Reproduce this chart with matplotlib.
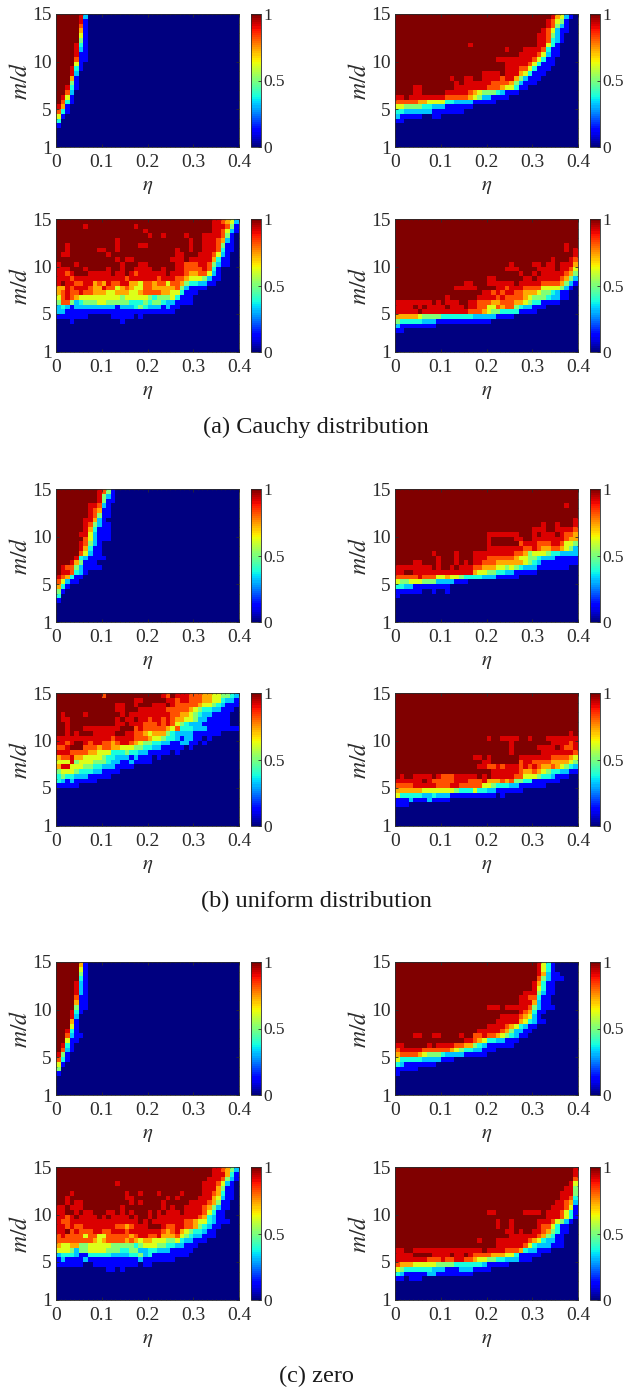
import numpy as np
import matplotlib
matplotlib.use("Agg")
import matplotlib.pyplot as plt

plt.rcParams['font.family'] = ['Liberation Serif', 'DejaVu Serif']
plt.rcParams['mathtext.fontset'] = 'stix'

# figure size in pixels
W, H = 624, 1389

# axis values
eta_edges = np.arange(41) * 0.01
md_edges = 1 + np.arange(29) * 0.5
eta_ticks = [0, 0.1, 0.2, 0.3, 0.4]
eta_labels = ['0', '0.1', '0.2', '0.3', '0.4']
md_ticks = [1, 5, 10, 15]
bar_ticks = [0, 0.5, 1]
bar_labels = ['0', '0.5', '1']
captions = ['(a) Cauchy distribution', '(b) uniform distribution', '(c) zero']

# every digit in the grids below stands for one of these values
levels = [0, 0.12, 0.32, 0.39, 0.5, 0.62, 0.72, 0.82, 0.92, 1]

D = '9' * 40

a_tl = ["99999 82", "99999 81", "99999 71", "99999 61", "99999 51", "99999 41", "9999 831",
        "9999 821", "9999 811", "9999 711", "9999 51", "999 831", "999 82", "999 61", "999 41",
        "99 831", "99 72", "9 851", "9 731", "861", "731", "51", "3", "1"]

a_tr = ["9999999999 9999999999 9999999999 9999865210",
        "9999999999 9999999999 9999999999 9998754100",
        "9999999999 9999999999 9999999999 9998742100",
        "9999999999 9999999999 9999999999 9987521100",
        "9999999999 9999999999 9999999999 9887421000",
        "9999999999 9999999999 9999999999 9887321000",
        "9999999999 9999998999 9999999999 9885310000",
        "9999999999 9999999999 9999899988 8873110000",
        "9999999999 9999999999 9999999888 8752110000",
        "9999999999 9999999999 9988888888 7531100000",
        "9999999999 9999999999 9999888887 5311100000",
        "9999999999 9999999999 9999888775 3111",
        "9999999999 9999999998 8889888653 1110",
        "9999999999 9989988998 8887886421 11",
        "9999999999 9998988888 8777764211 1",
        "9999889999 9998888888 7776553110",
        "9999889999 9888887654 4432111",
        "8898888888 8777776542 2111 1",
        "7777766555 5332222111 11",
        "5544443322 2111111",
        "3322222211 11111",
        "2111110011",
        "11"]

a_bl = ["9999999999 9999999999 9999999999 9999887652",
        "9999998999 9999999899 9999999999 9999888741",
        "9999999999 9999999998 9999999999 9999887521",
        "9999999999 9999999999 8998999989 9988887410",
        "9999999999 9998999999 9999999998 9988876210",
        "9989999999 9998999988 9999999998 9988874110",
        "9989999998 8998999999 9999998998 9988873110",
        "9889999999 9899999999 9999998899 9888752100",
        "9999999999 9998988999 9999988898 8888631100",
        "8999899999 9999899988 9999998877 7887421100",
        "8889998999 9899899888 8998998877 7787310000",
        "8878999888 8898898788 8888988876 6775210000",
        "8887888888 8888878888 8878887765 5542110000",
        "8988778867 6877886657 7677577643 3221100000",
        "6687888766 8775676557 7666667421 111",
        "6787787766 6556665567 7776655311 1",
        "5787655555 5555455555 4344453111",
        "4774234445 5444443334 3443221111",
        "2321222222 2221222343 22212110",
        "2211111111 1111111111 111111",
        "1111111000 0011111010",
        "0001000000 0000100"]

a_br = [D, D, D, D, D,
        "9999999999 9999999999 9999999999 9999999899",
        "9999999999 9999999999 9999999999 9999999898",
        "9999999999 9999999999 9999999999 9999999998",
        "9999999999 9999999999 9999999999 9999899987",
        "9999999999 9999999999 9999989999 8898898886",
        "9999999999 9999999999 9999888999 9888898875",
        "9999999999 9999999999 9999999899 8988888764",
        "9999999999 9999999999 8899999988 9888887642",
        "9999999999 9999988999 8888889888 8877776421",
        "9999999999 9998888899 9988788877 7755554210",
        "9999999999 9999999998 8787887766 6544321100",
        "9999999999 9899999988 8878777765 4443221100",
        "8888888898 9888998877 7667776654 331111",
        "8888989888 8988898877 5576774322 111",
        "8888898888 8888887776 5443333111 1",
        "6666654444 3333333222 2211110000",
        "4333332221 1111111111 1",
        "2111111110",
        "11"]

b_tl = ["9999999998 741", "9999999998 421", "9999999998 411", "9999999887 21", "9999999876 11",
        "9999999874 11", "9999998862 1", "9999998742 11", "9999998631 11", "9999988521 11",
        "9999997521 11", "9999987421", "9999986311", "9999975211", "9999832111 1",
        "9998641110", "9877421111", "9887321", "876311", "75211", "631", "41", "3", "1"]

b_tr = [D, D, D,
        "9999999999 9999999999 9999999999 9999999899",
        D, D,
        "9999999999 9999999999 9999999999 9999999998",
        "9999999999 9999999999 9999999999 9989989998",
        "9999999999 9999999999 9999999999 8889988887",
        "9999999999 9999999999 8888888999 8988898776",
        "9999999999 9999999999 8999998899 8888888766",
        "9999999999 9999999999 8999999788 8777887554",
        "9999999999 9999999999 8888888877 8766776542",
        "9999999989 9998999888 8888887764 5554332222",
        "9999999998 9998999888 7777776554 4322211111",
        "9999889998 9998989887 7766666654 3211111111",
        "8888888898 9989888776 6655454322 2111111100",
        "8899888888 8888888655 4433221111 1",
        "7777787775 5655433332 2211111",
        "5445554442 22211100",
        "3322111111 11",
        "1111110010 01",
        "1"]

b_bl = ["9999999999 7999999999 9998798887 7766554432",
        "9999999999 9999999889 9999887887 7766553221",
        "9999999999 9998899899 9888987777 7655432111",
        "9999999999 9998899988 8888777776 5433221110",
        "9899998999 9999898888 8888877665 4322111100",
        "9889999999 9998988988 7887876655 42211111",
        "9989999999 9998898887 7787875432 2211111100",
        "9989998888 8888999787 7777657333 2221111111",
        "9989899988 8889988776 5666432222 1111110000",
        "8888888888 8878888777 6554332122 1101",
        "8878998788 7767887654 4332211221 101",
        "7789997776 7766555443 3221111101",
        "8887777665 5533343322 11111010",
        "6778665555 4332221211 101",
        "5558455544 4322112111 1",
        "6885554433 2221111",
        "4555433322 1111",
        "3433222111 11",
        "321211111",
        "11111"]

b_br = [D, D, D, D, D, D, D, D,
        "9999999999 9999999999 9999999999 9999999989",
        "9999999999 9999999999 8998888998 9998888888",
        "9999999999 9999999999 9999989999 9999888878",
        "9999999999 9999999999 9999989999 9888898778",
        "9999999999 9999999999 9999989999 9988888887",
        "9999999999 9999999889 8999999888 8888777765",
        "9999999999 9999999998 8999999788 7777666654",
        "9999999999 9999999988 7787888787 8766765432",
        "9999999999 9999999999 9888888766 7654332211",
        "9899888898 7778888898 9888887755 5433211100",
        "8888889877 7778887778 6667674433 111111",
        "7777888887 7788777775 5433322111 111",
        "6666665555 5554333533 2211111100",
        "5333332232 2211111111 1101",
        "1112111211 11",
        "111"]

c_tl = ["99999 61", "99999 51", "99999 41", "99999 31", "9999 821", "9999 821", "9999 821",
        "9999 711", "9999 611", "9999 411", "999 831", "999 82", "999 61", "999 51", "99 831",
        "99 7211", "99 511", "9 831", "9 721", "841", "731", "51", "4", "1"]

c_tr = ["9999999999 9999999999 9999999999 9853100000",
        "9999999999 9999999999 9999999999 9853100000",
        "9999999999 9999999999 9999999999 9862110000",
        "9999999999 9999999999 9999999999 9742111000",
        "9999999999 9999999999 9999999999 8631100000",
        "9999999999 9999999999 9999999999 8531100000",
        "9999999999 9999999999 9999999988 8421100000",
        "9999999999 9999999999 9999999887 7311000000",
        "9999999999 9999999999 9999999888 6211000000",
        "9999999999 9999999999 8889888887 4211100000",
        "9999999999 9999999999 9999999876 311",
        "9999999999 9999999999 9998888765 21",
        "9999999999 9999999999 9988888653 211",
        "9999999999 9999999999 8888765321 1",
        "9999999999 9999999988 8887642211",
        "9999889988 9999899778 7765432110",
        "9999999999 9999988765 3322111",
        "8899999898 8887766432 111111",
        "7888887777 7765433221 11",
        "6777765444 3222211111",
        "5333332222 111",
        "321111111",
        "11111",
        "1"]

c_bl = ["9999999999 9999999999 9999999999 9999887642",
        "9999999999 9999999999 9999999999 9999888631",
        "9999999999 9999999999 9999999999 9998887421",
        "9999999999 9998999999 9999999999 9988875210",
        "9999999999 9999999999 9999999999 9988864110",
        "9998999999 9999989989 9989999899 9988763110",
        "9989999999 9999988999 9999898999 9888652110",
        "9989889999 9999998989 9998999998 8887641100",
        "8898889999 9999899999 9998989988 8876421100",
        "8899898899 9889898999 8989888988 8875311000",
        "8878988889 8988889899 8988888888 8763211000",
        "8778888888 8888888898 9888888877 6553211100",
        "8878778888 8887767888 9998778877 6432110000",
        "8897877788 7788878888 8887678654 3321100000",
        "7877775775 5777776788 7786667543 2211100000",
        "7777777765 6777767656 6555445322 111",
        "6556644555 5544444345 5544332211 1",
        "5554244555 5444334422 3322211111",
        "2333211333 3322223342 311111111",
        "1211112111 1111111121 111111",
        "1111110011 1111111101 1",
        "0000000000 0110100"]

c_br = ["9999999999 9999999999 9999999999 9999999998",
        "9999999999 9999999999 9999999999 9999999998",
        "9999999999 9999999999 9999999999 9999999997",
        "9999999999 9999999999 9999999999 9999999985",
        "9999999999 9999999999 9999999999 9999999884",
        "9999999999 9999999999 9999999999 9999998884",
        "9999999999 9999999999 9999999999 9999998873",
        "9999999999 9999999999 9999999999 9999988762",
        "9999999999 9999999999 9999999999 9999888751",
        "9999999999 9999999999 8899999988 8898887531",
        "9999999999 9999999999 9999999999 9998887531",
        "9999999999 9999999999 9989989999 9888754210",
        "9999999999 9999999999 9989989999 9877531100",
        "9999999999 9999999999 9999889899 8876431100",
        "9999999999 9999999999 9999988888 8764311",
        "9999999999 9999999989 9988888887 6532211",
        "9999999999 9999999999 9988888875 3222111",
        "8899888888 8888888889 8888777632 2111",
        "8888999988 8898898777 7666553111 11",
        "8888888777 8778877655 4433222111",
        "7666555554 4443333332 111110",
        "5433333322 2111222111 1",
        "3211111221 1111111",
        "110111"]

rows_px = [14, 219, 489, 693, 962, 1167]
cols_px = [56, 395]
cbar_px = [251, 590]
panels = [a_tl, a_tr, a_bl, a_br, b_tl, b_tr, b_bl, b_br, c_tl, c_tr, c_bl, c_br]
caption_y = [427, 901, 1376]

AX_W, AX_H, BAR_W = 183, 133, 10
TXT = '#2b2b2b'


def grid_values(rows):
    out = []
    for r in rows:
        r = r.replace(' ', '').ljust(40, '0')[:40]
        out.append([levels[int(c)] for c in r])
    while len(out) < 28:
        out.append([0] * 40)
    return np.array(out)[::-1]


def px_axes(fig, x, y, w, h):
    return fig.add_axes([x / W, 1 - (y + h) / H, w / W, h / H])


fig = plt.figure(figsize=(W / 100, H / 100), dpi=100)

for i, rows in enumerate(panels):
    top = rows_px[i // 2]
    col = i % 2
    ax = px_axes(fig, cols_px[col], top, AX_W, AX_H)
    mesh = ax.pcolormesh(eta_edges, md_edges, grid_values(rows), cmap=plt.get_cmap('jet', 64), vmin=0, vmax=1)
    ax.set_xlim(0, 0.4)
    ax.set_ylim(1, 15)
    ax.set_xticks(eta_ticks)
    ax.set_xticklabels(eta_labels)
    ax.set_yticks(md_ticks)
    ax.set_xticks(eta_edges, minor=True)
    ax.set_yticks(np.arange(1, 16), minor=True)
    ax.tick_params(which='major', direction='in', top=True, right=True, length=2.5, width=0.6,
                   color=TXT, labelcolor=TXT, labelsize=14, pad=5)
    ax.tick_params(which='major', axis='y', pad=3)
    ax.tick_params(which='minor', direction='in', top=True, right=True, length=1, width=0.4, color=TXT)
    for s in ax.spines.values():
        s.set_linewidth(0.6)
        s.set_color(TXT)
    ax.set_xlabel(r'$\eta$', fontsize=15, color=TXT)
    ax.xaxis.set_label_coords(0.5, -30 / AX_H)
    ax.set_ylabel(r'$m/d$', fontsize=17, color=TXT)
    ax.yaxis.set_label_coords(-24 / AX_W, 0.5)

    cax = px_axes(fig, cbar_px[col], top, BAR_W, AX_H)
    cb = fig.colorbar(mesh, cax=cax, ticks=bar_ticks)
    cb.ax.set_yticklabels(bar_labels)
    cb.ax.tick_params(direction='in', length=2, width=0.6, color=TXT, labelcolor=TXT, labelsize=12.5, pad=2)
    cb.outline.set_linewidth(0.6)
    cb.outline.set_edgecolor(TXT)

for text, y in zip(captions, caption_y):
    fig.text(316 / W, 1 - y / H, text, ha='center', va='center', fontsize=17.5, color='#1a1a1a')

fig.savefig('out.png', dpi=100)
